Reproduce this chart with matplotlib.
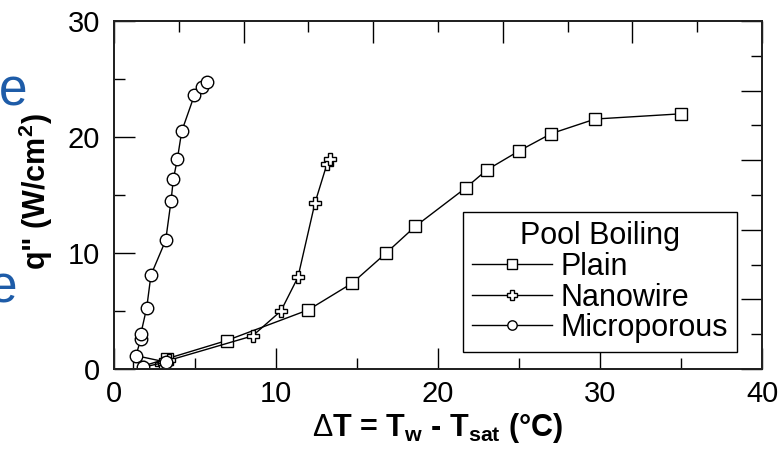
import matplotlib
matplotlib.use("Agg")
import matplotlib.pyplot as plt
import numpy as np

# data
plain_x = [1.55, 3.3, 6.95, 12.0, 14.7, 16.8, 18.6, 21.7, 23.0, 25.0, 27.0, 29.7, 35.0]
plain_y = [0.15, 0.9, 2.45, 5.1, 7.4, 10.0, 12.3, 15.6, 17.15, 18.8, 20.3, 21.55, 22.0]

nano_x = [2.9, 3.1, 3.4, 8.55, 10.3, 11.35, 12.4, 13.15, 13.35]
nano_y = [0.4, 0.55, 0.75, 2.85, 5.0, 7.9, 14.3, 17.7, 18.1]

micro_x = [1.8, 3.2, 1.35, 1.65, 1.65, 2.02, 2.28, 3.19, 3.52, 3.66, 3.91, 4.18, 4.96, 5.41, 5.76]
micro_y = [0.15, 0.6, 1.15, 2.55, 3.0, 5.3, 8.1, 11.1, 14.5, 16.35, 18.1, 20.5, 23.6, 24.3, 24.7]

names = ["Plain", "Nanowire", "Microporous"]

#fonts
plt.rcParams['font.family'] = ['Liberation Sans', 'DejaVu Sans']
plt.rcParams['mathtext.fontset'] = 'custom'
plt.rcParams['mathtext.rm'] = 'Liberation Sans'
plt.rcParams['mathtext.bf'] = 'Liberation Sans:bold'

fig = plt.figure(figsize=(7.81, 4.61), dpi=100)
ax = fig.add_axes([0.146, 0.1996, 0.8297, 0.7548])

mk = dict(color='black', lw=1.0, markersize=9, markerfacecolor='white',
          markeredgecolor='black', markeredgewidth=1.0)
ax.plot(plain_x, plain_y, marker='s', label=names[0], **mk)
ax.plot(nano_x, nano_y, marker='P', label=names[1], **mk)
ax.plot(micro_x, micro_y, marker='o', label=names[2], **mk)

ax.set_xlim(0, 40)
ax.set_ylim(0, 30)
ax.set_xticks(np.arange(0, 41, 10))
ax.set_xticks(np.arange(0, 41, 5), minor=True)
ax.set_yticks(np.arange(0, 31, 10))
ax.set_yticks(np.arange(0, 31, 5), minor=True)
ax.tick_params(which='both', direction='in', top=False, right=False, width=1)
ax.tick_params(which='major', length=15, labelsize=21, pad=10)
ax.tick_params(which='minor', length=8)
ax.tick_params(axis='x', which='major', pad=8)

# unlabeled secondary scales on top and right
axt = ax.twiny()
axt.set_xlim(0, 40)
axt.set_xticks(np.arange(0, 41, 8))
axt.set_xticks(np.arange(0, 41, 4), minor=True)
axt.tick_params(which='both', direction='in', labeltop=False, width=1)
axt.tick_params(which='major', length=16)
axt.tick_params(which='minor', length=8)
axr = ax.twinx()
axr.set_ylim(0, 30)
axr.set_yticks(np.arange(0, 31, 6))
axr.set_yticks(np.arange(0, 31, 3), minor=True)
axr.tick_params(which='both', direction='in', labelright=False, width=1)
axr.tick_params(which='major', length=15)
axr.tick_params(which='minor', length=8)
for a in (ax, axt, axr):
    for s in a.spines.values():
        s.set_linewidth(1.2)
        s.set_color('#222222')

ax.set_xlabel(r'$\Delta$T = T$_\mathbf{w}$ - T$_\mathbf{sat}$ (°C)', fontsize=22, fontweight='bold')
ax.xaxis.set_label_coords(0.5, -0.12)
ax.set_ylabel('q" (W/cm$^\\mathbf{2}$)', fontsize=22, fontweight='bold')
ax.yaxis.set_label_coords(-0.091, 0.51)

leg = ax.legend(title='Pool Boiling', loc='lower right', bbox_to_anchor=(0.962, 0.048),
                borderaxespad=0, fontsize=22, title_fontsize=22, fancybox=False,
                edgecolor='black', framealpha=1, handlelength=2.6, markerscale=0.75,
                handletextpad=0.3, labelspacing=0.02, borderpad=0.3)
leg.get_frame().set_linewidth(1.0)

# clipped blue letters at the left edge
fig.text(27 / 781, 1 - 106 / 461, 'e', ha='right', va='baseline', color='#1e5ca8', fontsize=37)
fig.text(17 / 781, 1 - 302 / 461, 'e', ha='right', va='baseline', color='#1e5ca8', fontsize=37)

fig.savefig('out.png', dpi=100)
